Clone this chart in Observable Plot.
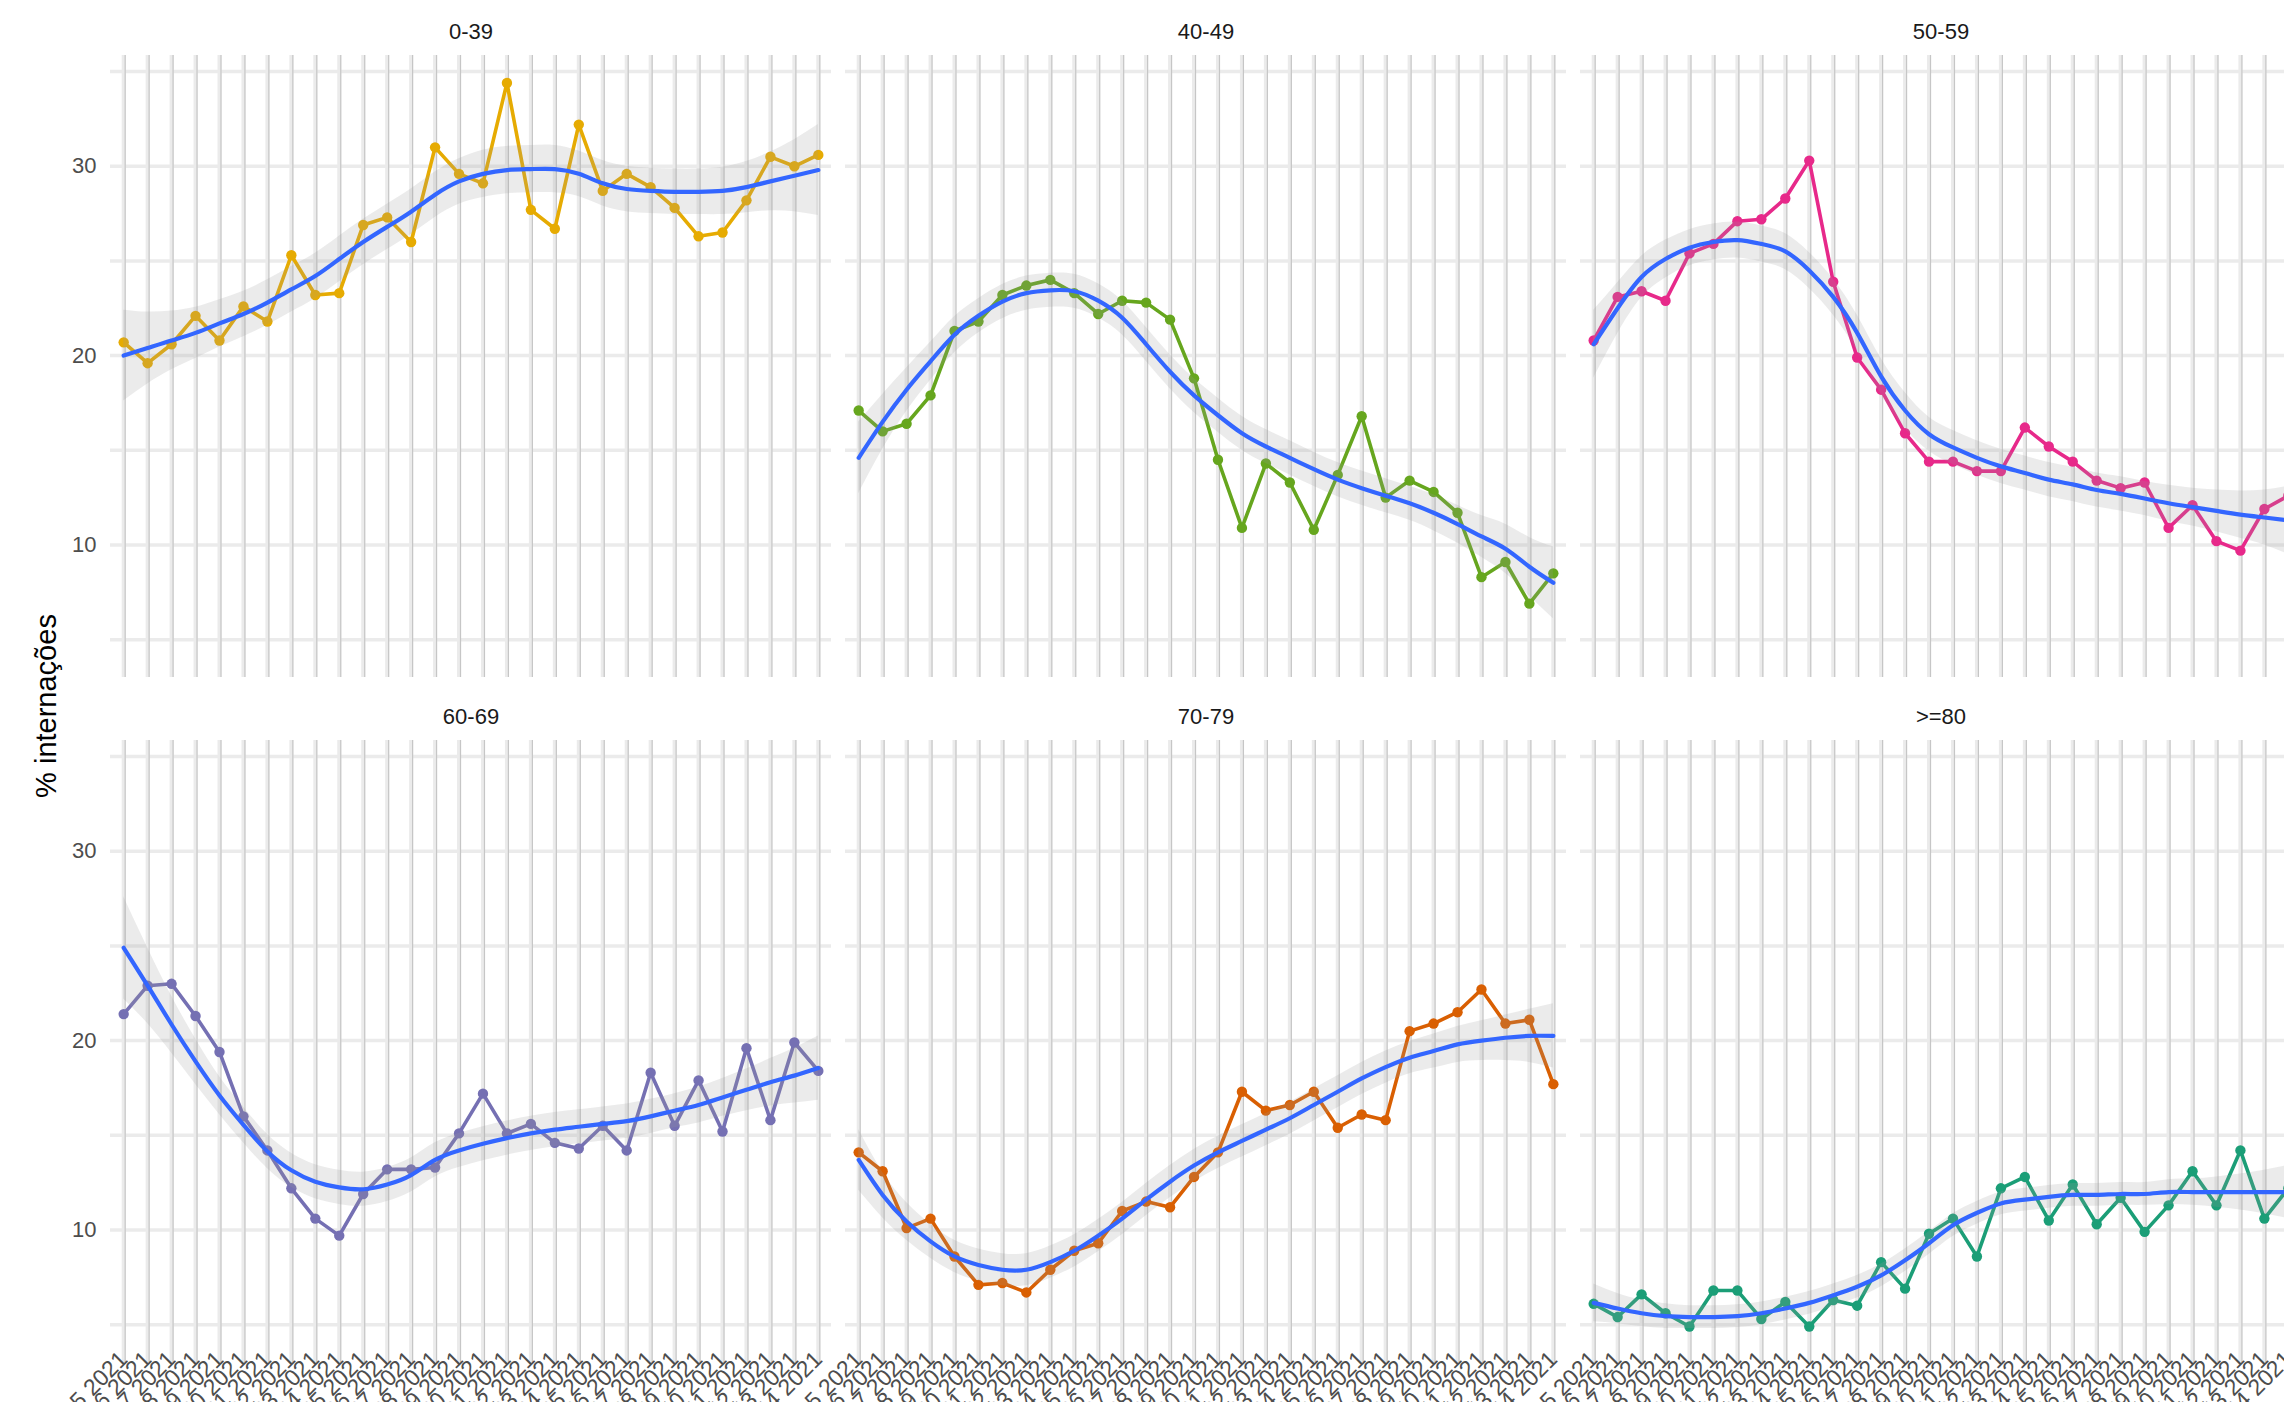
<!DOCTYPE html>
<html>
<head>
<meta charset="utf-8">
<script src="https://cdn.jsdelivr.net/npm/d3@7"></script>
<script src="https://cdn.jsdelivr.net/npm/@observablehq/plot@0.6"></script>
<style>
html, body { margin: 0; padding: 0; background: #fff; overflow: hidden; }
#wrap { position: relative; width: 2284px; height: 1402px; overflow: hidden; background: #fff;
        font-family: "Liberation Sans", Arial, sans-serif; }
#chart { position: absolute; left: 0; top: 0; width: 2400px; }
#chart svg { max-width: none !important; }
#ytitle { position: absolute; left: 46px; top: 706px; transform: translate(-50%, -50%) rotate(-90deg);
          font-size: 29px; color: #000; white-space: nowrap; }
</style>
</head>
<body>
<div id="wrap">
  <div id="chart"></div>
  <div id="ytitle">% internações</div>
</div>
<script>
// ---- categories / tick labels ----
const groups = ["0-39", "40-49", "50-59", "60-69", "70-79", ">=80"];
const colors = ["#E6AB02", "#66A61E", "#E7298A", "#7570B3", "#D95F02", "#1B9E77"];
const weeks = ["15 2021","16 2021","17 2021","18 2021","19 2021","20 2021","21 2021","22 2021","23 2021","24 2021",
               "25 2021","26 2021","27 2021","28 2021","29 2021","30 2021","31 2021","32 2021","33 2021","34 2021",
               "35 2021","36 2021","37 2021","38 2021","39 2021","40 2021","41 2021","42 2021","43 2021","44 2021"];
const yTicks = [10, 20, 30];
const yGrid = [5, 10, 15, 20, 25, 30, 35];

// ---- observed % of hospitalisations ----
const pct_0_39  = [20.7,19.6,20.6,22.1,20.8,22.6,21.8,25.3,23.2,23.3,26.9,27.3,26.0,31.0,29.6,29.1,34.4,27.7,26.7,32.2,28.7,29.6,28.9,27.8,26.3,26.5,28.2,30.5,30.0,30.6];
const pct_40_49 = [17.1,16.0,16.4,17.9,21.3,21.8,23.2,23.7,24.0,23.3,22.2,22.9,22.8,21.9,18.8,14.5,10.9,14.3,13.3,10.8,13.7,16.8,12.5,13.4,12.8,11.7,8.3,9.1,6.9,8.5];
const pct_50_59 = [20.8,23.1,23.4,22.9,25.4,25.9,27.1,27.2,28.3,30.3,23.9,19.9,18.2,15.9,14.4,14.4,13.9,13.9,16.2,15.2,14.4,13.4,13.0,13.3,10.9,12.1,10.2,9.7,11.9,12.6];
const pct_60_69 = [21.4,22.9,23.0,21.3,19.4,16.0,14.2,12.2,10.6,9.7,11.9,13.2,13.2,13.3,15.1,17.2,15.1,15.6,14.6,14.3,15.5,14.2,18.3,15.5,17.9,15.2,19.6,15.8,19.9,18.4];
const pct_70_79 = [14.1,13.1,10.1,10.6,8.6,7.1,7.2,6.7,7.9,8.9,9.3,11.0,11.5,11.2,12.8,14.1,17.3,16.3,16.6,17.3,15.4,16.1,15.8,20.5,20.9,21.5,22.7,20.9,21.1,17.7];
const pct_80    = [6.1,5.4,6.6,5.6,4.9,6.8,6.8,5.3,6.2,4.9,6.3,6.0,8.3,6.9,9.8,10.6,8.6,12.2,12.8,10.5,12.4,10.3,11.7,9.9,11.3,13.1,11.3,14.2,10.6,12.2];

// ---- smooth (loess) fit ----
const fit_0_39  = [20.0,20.4,20.8,21.2,21.7,22.2,22.8,23.5,24.2,25.1,26.0,26.8,27.6,28.5,29.2,29.6,29.8,29.85,29.85,29.6,29.1,28.8,28.7,28.65,28.65,28.7,28.9,29.2,29.5,29.8];
const fit_40_49 = [14.6,16.5,18.2,19.7,21.1,22.1,22.85,23.3,23.45,23.4,22.9,22.0,20.6,19.15,17.9,16.85,15.9,15.2,14.6,14.0,13.45,13.0,12.6,12.2,11.7,11.1,10.45,9.8,8.85,8.0];
const fit_50_59 = [20.6,22.5,24.15,25.1,25.7,26.0,26.1,25.9,25.5,24.5,23.1,21.2,18.9,17.1,15.85,15.15,14.6,14.15,13.8,13.45,13.2,12.9,12.7,12.45,12.2,12.0,11.8,11.6,11.45,11.3];
const fit_60_69 = [24.9,22.9,20.85,18.9,17.1,15.55,14.15,13.15,12.55,12.25,12.15,12.4,12.9,13.7,14.2,14.55,14.85,15.1,15.3,15.45,15.6,15.75,16.0,16.3,16.6,17.0,17.4,17.8,18.15,18.55];
const fit_70_79 = [13.7,11.85,10.45,9.4,8.6,8.15,7.9,7.9,8.3,8.9,9.7,10.6,11.6,12.55,13.4,14.1,14.7,15.3,15.9,16.6,17.3,18.0,18.6,19.1,19.45,19.8,20.0,20.15,20.25,20.25];
const fit_80    = [6.15,5.85,5.6,5.45,5.4,5.4,5.45,5.6,5.85,6.15,6.55,7.0,7.6,8.4,9.3,10.25,10.9,11.4,11.6,11.75,11.85,11.85,11.9,11.9,12.0,12.0,12.0,12.0,12.0,12.0];

// ---- confidence band half-widths ----
const band_0_39  = [2.4,1.9,1.55,1.35,1.25,1.2,1.2,1.2,1.2,1.2,1.2,1.2,1.2,1.2,1.2,1.25,1.25,1.25,1.25,1.2,1.2,1.2,1.2,1.2,1.2,1.25,1.35,1.55,1.9,2.4];
const band_40_49 = [1.9,1.45,1.15,1.0,0.95,0.9,0.9,0.9,0.9,0.9,0.9,0.9,0.9,0.9,0.9,0.9,0.9,0.9,0.9,0.9,0.9,0.9,0.9,0.9,0.95,1.0,1.1,1.3,1.55,1.9];
const band_50_59 = [1.8,1.35,1.1,1.0,0.95,0.95,0.95,0.95,0.95,0.95,0.95,0.95,0.95,0.95,0.9,0.9,0.9,0.9,0.9,0.9,0.9,0.9,0.9,0.9,0.95,1.0,1.1,1.25,1.45,1.8];
const band_60_69 = [2.7,2.0,1.5,1.2,1.0,0.95,0.9,0.9,0.9,0.9,0.9,0.9,0.9,0.9,0.9,0.9,0.9,0.9,0.9,0.9,0.9,0.9,0.9,0.9,0.95,1.0,1.1,1.25,1.45,1.7];
const band_70_79 = [1.6,1.2,1.0,0.9,0.85,0.85,0.85,0.85,0.85,0.85,0.85,0.85,0.85,0.85,0.85,0.85,0.85,0.85,0.85,0.85,0.85,0.85,0.85,0.85,0.9,0.95,1.05,1.2,1.4,1.7];
const band_80    = [1.0,0.8,0.7,0.65,0.6,0.6,0.6,0.6,0.6,0.6,0.6,0.6,0.6,0.6,0.6,0.6,0.6,0.6,0.6,0.6,0.6,0.6,0.6,0.6,0.65,0.7,0.8,0.95,1.15,1.4];

const pctSeries  = [pct_0_39, pct_40_49, pct_50_59, pct_60_69, pct_70_79, pct_80];
const fitSeries  = [fit_0_39, fit_40_49, fit_50_59, fit_60_69, fit_70_79, fit_80];
const bandSeries = [band_0_39, band_40_49, band_50_59, band_60_69, band_70_79, band_80];

// table built from the arrays above
const rows = [];
groups.forEach((g, k) => {
  weeks.forEach((w, i) => {
    rows.push({
      group: g, col: k % 3, row: Math.floor(k / 3), week: w,
      pct: pctSeries[k][i], fit: fitSeries[k][i],
      lo: fitSeries[k][i] - bandSeries[k][i], hi: fitSeries[k][i] + bandSeries[k][i]
    });
  });
});
const titles = groups.map((g, k) => ({group: g, col: k % 3, row: Math.floor(k / 3)}));

const panelW = 721, gapW = 14, panelH = 622, gapH = 63;
const marginLeft = 110, marginTop = 55, marginBottom = 120, marginRight = 10;

const chart = Plot.plot({
  width: marginLeft + 3 * panelW + 2 * gapW + marginRight,
  height: marginTop + 2 * panelH + gapH + marginBottom,
  marginLeft, marginTop, marginBottom, marginRight,
  style: {fontFamily: "'Liberation Sans', Arial, sans-serif", background: "white", color: "#4d4d4d",
          overflow: "visible", maxWidth: "none"},
  fx: {domain: [0, 1, 2], paddingInner: gapW / (panelW + gapW), paddingOuter: 0, round: false, axis: null},
  fy: {domain: [0, 1], paddingInner: gapH / (panelH + gapH), paddingOuter: 0, round: false, axis: null},
  x: {type: "point", domain: weeks, padding: 0.55, round: false, axis: null},
  y: {domain: [3.0, 35.85], axis: null},
  color: {domain: groups, range: colors},
  marks: [
    Plot.ruleY(yGrid, {y: d => d, stroke: "#ebebeb", strokeWidth: 3.5}),
    Plot.ruleX(weeks, {x: d => d, stroke: "#ebebeb", strokeWidth: 4}),
    Plot.ruleX(weeks, {x: d => d, stroke: "#c6c6c6", strokeWidth: 1.2, dx: 1.5}),
    Plot.line(rows, {fx: "col", fy: "row", x: "week", y: "pct", stroke: "group", strokeWidth: 3.6}),
    Plot.dot(rows, {fx: "col", fy: "row", x: "week", y: "pct", fill: "group", r: 5.2}),
    Plot.areaY(rows, {fx: "col", fy: "row", x: "week", y1: "lo", y2: "hi", z: "group",
                      fill: "#999999", fillOpacity: 0.2, curve: "natural"}),
    Plot.line(rows, {fx: "col", fy: "row", x: "week", y: "fit", z: "group",
                     stroke: "#3366FF", strokeWidth: 4.2, curve: "natural"}),
    Plot.axisY({ticks: yTicks, tickSize: 0, tickPadding: 14, fontSize: 22, label: null, fill: "#4d4d4d"}),
    Plot.axisX({ticks: weeks, tickSize: 0, tickPadding: 0, tickRotate: -45, fontSize: 23, label: null,
                fill: "#4d4d4d", lineAnchor: "middle", textAnchor: "end", dy: -7}),
    Plot.text(titles, {fx: "col", fy: "row", text: "group", frameAnchor: "top", lineAnchor: "middle", dy: -24,
                       fontSize: 22, fill: "#1a1a1a"})
  ]
});
document.getElementById("chart").appendChild(chart);
</script>
</body>
</html>
